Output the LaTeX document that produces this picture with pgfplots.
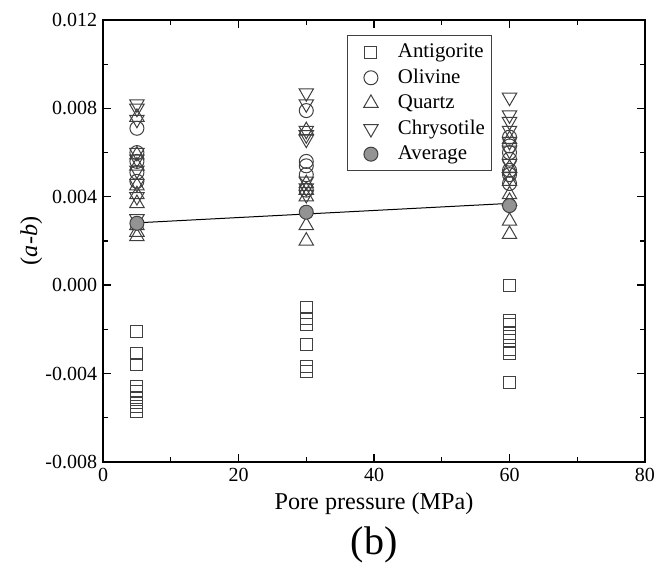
\documentclass[border=0pt]{standalone}
\usepackage{fontspec}
\setmainfont{Liberation Serif}
\usepackage{pgfplots}
\pgfplotsset{compat=1.18}
\definecolor{mk}{gray}{0.25}
\begin{document}
\begin{tikzpicture}
\begin{axis}[
  scale only axis, width=325pt, height=265pt,
  xmin=0, xmax=80, ymin=-0.008, ymax=0.012,
  xtick={0,20,40,60,80}, minor x tick num=1,
  ytick={-0.008,-0.004,0,0.004,0.008,0.012}, minor y tick num=1,
  tick align=inside,
  major tick length=5pt, minor tick length=3pt,
  axis line style={line width=1pt},
  every tick/.style={black, line width=0.8pt},
  scaled y ticks=false,
  yticklabel style={/pgf/number format/.cd, fixed, fixed zerofill, precision=3},
  /pgf/number format/assume math mode=true,
  ticklabel style={font=\fontsize{12}{14}\selectfont},
  xlabel={Pore pressure (MPa)},
  ylabel={(\textit{a}-\textit{b})},
  label style={font=\fontsize{14.5}{16}\selectfont},
  xlabel style={yshift=0pt},
  ylabel style={yshift=-5pt},
  legend style={at={(0.45,0.965)}, anchor=north west, draw=black!75,
    font=\fontsize{12.5}{14}\selectfont, row sep=1.3pt, inner xsep=2pt, inner ysep=3pt},
  legend image code/.code={\path (0pt,0pt) (26pt,0pt); \draw[#1] plot coordinates {(12pt,0pt)};},
  legend cell align=left,
  clip=false,
]
\addplot[only marks, mark=square, mark size=3.6pt, mark options={draw=mk, line width=0.6pt}] coordinates {
(5,-0.0021) (5,-0.0031) (5,-0.0036) (5,-0.0046) (5,-0.0048) (5,-0.0051) (5,-0.0053) (5,-0.0055) (5,-0.0057)
(30,-0.0010) (30,-0.0015) (30,-0.0018) (30,-0.0027) (30,-0.0037) (30,-0.0039)
(60,0.0000) (60,-0.0016) (60,-0.0018) (60,-0.0022) (60,-0.0025) (60,-0.0029) (60,-0.0031) (60,-0.0044)
};
\addlegendentry{Antigorite}
\addplot[only marks, mark=o, mark size=4.2pt, mark options={draw=mk, line width=0.6pt}] coordinates {
(5,0.0071) (5,0.0060) (5,0.0056) (5,0.0051) (5,0.0047)
(30,0.0079) (30,0.0056) (30,0.0054) (30,0.0050) (30,0.0043)
(60,0.0067) (60,0.0063) (60,0.0060) (60,0.0057) (60,0.0052) (60,0.0050) (60,0.0046)
};
\addlegendentry{Olivine}
\addplot[only marks, mark=triangle, mark size=5pt, mark options={draw=mk, line width=0.6pt}] coordinates {
(5,0.0076) (5,0.0059) (5,0.0054) (5,0.0045) (5,0.0041) (5,0.0037) (5,0.0027) (5,0.0024) (5,0.0022)
(30,0.0070) (30,0.0046) (30,0.0043) (30,0.0040) (30,0.0027) (30,0.0020)
(60,0.0066) (60,0.0053) (60,0.0047) (60,0.0041) (60,0.0038) (60,0.0029) (60,0.0023)
};
\addlegendentry{Quartz}
\addplot[only marks, mark=triangle, mark size=5pt, mark options={rotate=180, draw=mk, line width=0.6pt}] coordinates {
(5,0.0082) (5,0.0080) (5,0.0075) (5,0.0060) (5,0.0057) (5,0.0052) (5,0.0046) (5,0.0040) (5,0.0030)
(30,0.0087) (30,0.0082) (30,0.0070) (30,0.0068) (30,0.0066) (30,0.0047) (30,0.0044) (30,0.0041)
(60,0.0085) (60,0.0077) (60,0.0074) (60,0.0070) (60,0.0065) (60,0.0061) (60,0.0055) (60,0.0049)
};
\addlegendentry{Chrysotile}
\addplot[only marks, mark=*, mark size=4.2pt, mark options={draw=mk, fill=gray!85, line width=0.6pt}] coordinates {
(5,0.0028) (30,0.0033) (60,0.0036)
};
\addlegendentry{Average}
\addplot[black, line width=0.6pt, forget plot] coordinates {(5,0.00282) (60,0.00370)};
\end{axis}
\node[font=\fontsize{24}{26}\selectfont] at ([yshift=-50pt]current axis.south) {(b)};
\path ([xshift=-61.8pt,yshift=-63.6pt]current axis.south west) rectangle ([xshift=16.2pt,yshift=12pt]current axis.north east);
\end{tikzpicture}
\end{document}
